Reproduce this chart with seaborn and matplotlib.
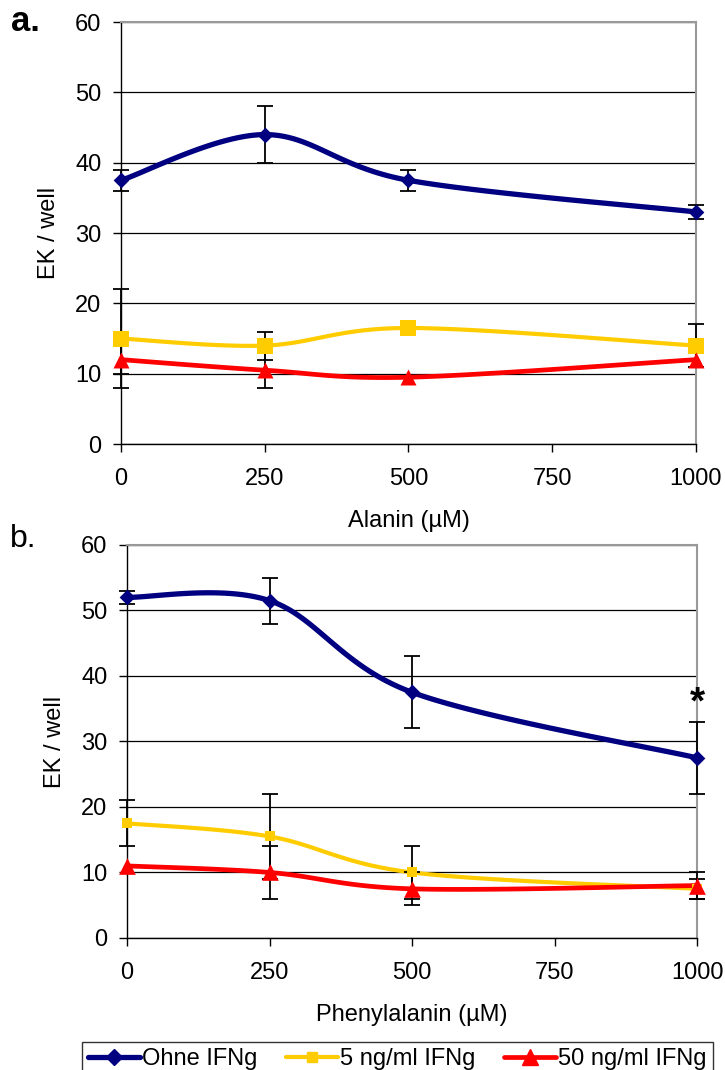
import numpy as np
import seaborn as sns
import matplotlib.pyplot as plt
from matplotlib.lines import Line2D

# Data
conc = [0, 250, 500, 1000]
x_ticks = [0, 250, 500, 750, 1000]
y_ticks = [0, 10, 20, 30, 40, 50, 60]
labels = ['Ohne IFNg', '5 ng/ml IFNg', '50 ng/ml IFNg']

# a. Alanin
ala_ohne = [37.5, 44.0, 37.5, 33.0]
ala_ohne_err = [1.5, 4.0, 1.5, 1.0]
ala_5 = [15.0, 14.0, 16.5, 14.0]
ala_5_err = [7.0, 2.0, 0.0, 3.0]
ala_50 = [12.0, 10.5, 9.5, 12.0]
ala_50_err = [2.0, 2.5, 0.0, 0.0]

# b. Phenylalanin
phe_ohne = [52.0, 51.5, 37.5, 27.5]
phe_ohne_err = [1.0, 3.5, 5.5, 5.5]
phe_5 = [17.5, 15.5, 10.0, 7.5]
phe_5_err = [3.5, 6.5, 4.0, 1.5]
phe_50 = [11.0, 10.0, 7.5, 8.0]
phe_50_err = [0.0, 4.0, 2.5, 2.0]

NAVY = '#000080'
YELLOW = '#FFCC00'
RED = '#FF0000'
FS = 17

sns.set_style('white')
plt.rcParams['font.family'] = ['Liberation Sans', 'DejaVu Sans']
plt.rcParams['text.color'] = 'black'
plt.rcParams['axes.labelcolor'] = 'black'
plt.rcParams['xtick.color'] = 'black'
plt.rcParams['ytick.color'] = 'black'


def smooth(x, y, n=40):
    # excel style smoothed line (bezier through the points)
    p = np.column_stack([x, y]).astype(float)
    pts = [p[0]]
    for i in range(len(p) - 1):
        p0 = p[i - 1] if i > 0 else p[i]
        p3 = p[i + 2] if i + 2 < len(p) else p[i + 1]
        c1 = p[i] + (p[i + 1] - p0) / 6
        c2 = p[i + 1] - (p3 - p[i]) / 6
        t = np.linspace(0, 1, n)[1:, None]
        seg = (1 - t)**3 * p[i] + 3 * (1 - t)**2 * t * c1 + 3 * (1 - t) * t**2 * c2 + t**3 * p[i + 1]
        pts.extend(seg)
    pts = np.array(pts)
    return pts[:, 0], pts[:, 1]


def draw_series(ax, vals, err, color, lw, marker, ms):
    sx, sy = smooth(conc, vals)
    sns.lineplot(x=sx, y=sy, sort=False, estimator=None, color=color, lw=lw, ax=ax, zorder=3)
    for l in ax.lines:
        l.set_clip_on(False)
    xe = [c for c, e in zip(conc, err) if e > 0]
    ye = [v for v, e in zip(vals, err) if e > 0]
    ee = [e for e in err if e > 0]
    ax.errorbar(xe, ye, yerr=ee, fmt='none', ecolor='black', elinewidth=1.3,
                capsize=5.5, capthick=1.3, zorder=4, clip_on=False)
    sns.scatterplot(x=conc, y=vals, marker=marker, s=ms**2, color=color, edgecolor=color,
                    linewidth=0, ax=ax, zorder=5, clip_on=False)


def style_axes(ax, xlabel):
    ax.set_xlim(0, 1000)
    ax.set_ylim(0, 60)
    ax.set_xticks(x_ticks)
    ax.set_yticks(y_ticks)
    ax.set_axisbelow(True)
    ax.yaxis.grid(True, color='black', lw=0.9)
    ax.xaxis.grid(False)
    for s in ['left', 'bottom']:
        ax.spines[s].set_color('black')
        ax.spines[s].set_linewidth(1.0)
    for s in ['top', 'right']:
        ax.spines[s].set_color('#999999')
        ax.spines[s].set_linewidth(1.5)
    ax.tick_params(axis='x', direction='out', length=6, width=1, color='black',
                   labelsize=FS, pad=11, bottom=True)
    ax.tick_params(axis='y', direction='out', length=6, width=1, color='black',
                   labelsize=FS, pad=8, left=True)
    ax.set_xlabel(xlabel, fontsize=FS, labelpad=15)
    ax.set_ylabel('EK / well', fontsize=FS, labelpad=11)


fig = plt.figure(figsize=(7.25, 10.7), dpi=100)

ax1 = fig.add_axes([0.1669, 0.585, 0.793, 0.3944])
draw_series(ax1, ala_ohne, ala_ohne_err, NAVY, 3.8, 'D', 8)
draw_series(ax1, ala_5, ala_5_err, YELLOW, 3.0, 's', 11)
draw_series(ax1, ala_50, ala_50_err, RED, 3.4, '^', 11.5)
style_axes(ax1, 'Alanin (µM)')

ax2 = fig.add_axes([0.1752, 0.1234, 0.7862, 0.3673])
draw_series(ax2, phe_ohne, phe_ohne_err, NAVY, 3.8, 'D', 8)
draw_series(ax2, phe_5, phe_5_err, YELLOW, 3.0, 's', 7)
draw_series(ax2, phe_50, phe_50_err, RED, 3.4, '^', 12)
style_axes(ax2, 'Phenylalanin (µM)')
ax2.text(conc[-1], 34.2, '*', fontsize=28, fontweight='bold', ha='center', va='baseline')

fig.text(11 / 725, 1 - 31 / 1070, 'a.', fontsize=25, fontweight='bold', va='baseline')
fig.text(10 / 725, 1 - 547 / 1070, 'b.', fontsize=23, va='baseline')

handles = [
    Line2D([], [], color=NAVY, lw=3.8, marker='D', ms=8),
    Line2D([], [], color=YELLOW, lw=3.0, marker='s', ms=6.5),
    Line2D([], [], color=RED, lw=3.4, marker='^', ms=11),
]
leg = fig.legend(handles, labels, loc='upper center', bbox_to_anchor=(0.548, 1 - 1042 / 1070),
                 ncol=3, fontsize=FS, frameon=True, fancybox=False, edgecolor='black',
                 handlelength=2.2, handletextpad=0.1, columnspacing=1.2,
                 borderpad=0.25, borderaxespad=0)
leg.get_frame().set_linewidth(1.0)

fig.savefig('out.png', dpi=100)
